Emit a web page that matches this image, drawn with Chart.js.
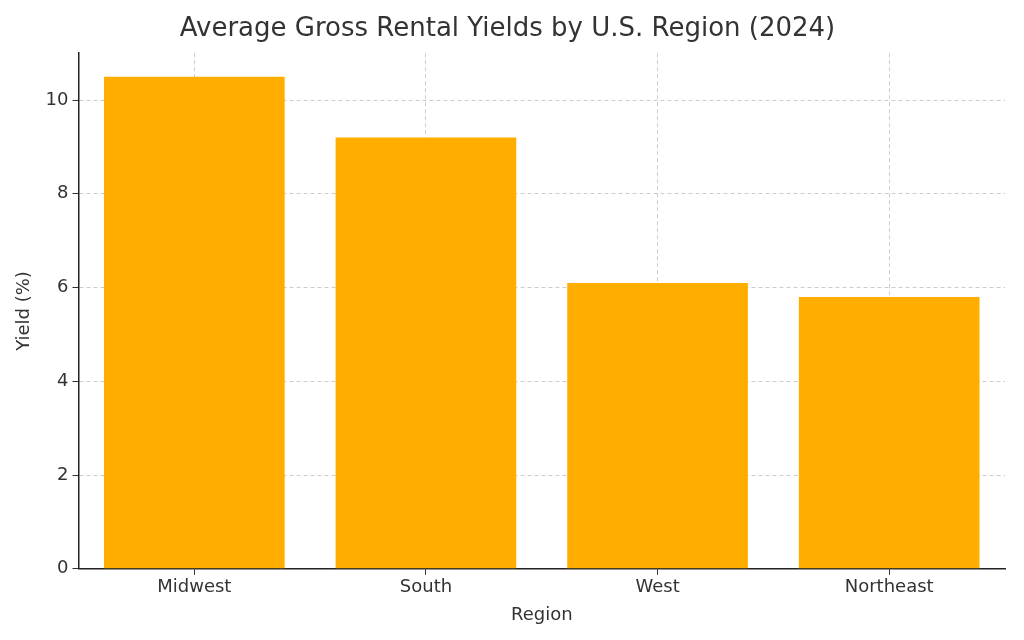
<!DOCTYPE html>
<html><head><meta charset="utf-8">
<script src="https://cdn.jsdelivr.net/npm/chart.js@4"></script>
<style>html,body{margin:0;padding:0;background:#fff}#w{width:1024px;height:640px}</style>
</head><body><div id="w"><canvas id="c"></canvas></div>
<script>
const categories = ["Midwest", "South", "West", "Northeast"];
const yields = [10.5, 9.2, 6.1, 5.8];
const yTicks = [0, 2, 4, 6, 8, 10];

const font = "'DejaVu Sans', sans-serif";
new Chart(document.getElementById('c'), {
  type: 'bar',
  data: { labels: categories, datasets: [{ data: yields, backgroundColor: '#FFAE00', categoryPercentage: 1, barPercentage: 0.78 }] },
  options: {
    responsive: true, maintainAspectRatio: false, animation: false,
    layout: { padding: { left: 10, right: 19, top: 4, bottom: 10 } },
    plugins: {
      legend: { display: false }, tooltip: { enabled: false },
      title: { display: true, text: 'Average Gross Rental Yields by U.S. Region (2024)', color: '#333', font: { family: font, size: 26, weight: 'normal' }, padding: { top: 10, bottom: 8 } }
    },
    scales: {
      x: {
        grid: { offset: false, color: '#ccc', tickColor: '#333', tickLength: 6, drawOnChartArea: true },
        border: { color: '#222', width: 1.5, dash: [4, 3] },
        ticks: { color: '#333', font: { family: font, size: 18 }, padding: 2 },
        title: { display: true, text: 'Region', color: '#333', font: { family: font, size: 18 }, padding: { top: 4 } }
      },
      y: {
        min: 0, max: 11,
        afterBuildTicks: a => { a.ticks = yTicks.map(v => ({ value: v })); },
        grid: { color: '#ccc', tickColor: '#333', tickLength: 6 },
        border: { color: '#222', width: 1.5, dash: [4, 3] },
        ticks: { color: '#333', font: { family: font, size: 18 }, padding: 4 },
        title: { display: true, text: 'Yield (%)', color: '#333', font: { family: font, size: 18 }, padding: { bottom: 6 } }
      }
    }
  }
});
</script></body></html>
